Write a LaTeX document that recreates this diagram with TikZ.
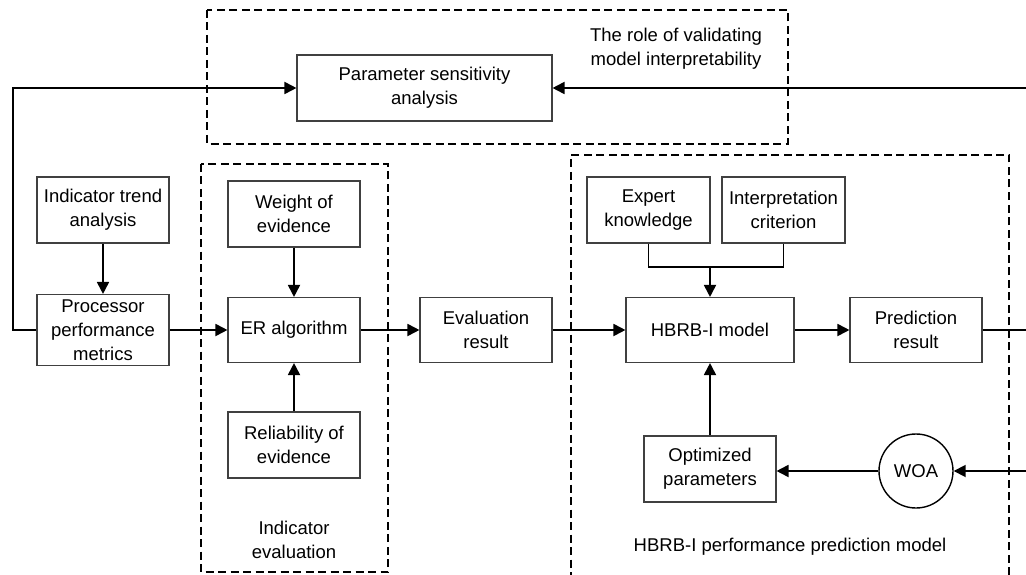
\documentclass[tikz,border=0pt]{standalone}
\usepackage{fontspec}
\setmainfont{Liberation Sans}
\usetikzlibrary{arrows.meta}
\tikzset{
  box/.style={draw=black!75, line width=1.1pt, rectangle, align=center,
    inner sep=0pt, font=\fontsize{18.5}{24}\selectfont},
  lbl/.style={align=center, inner sep=0pt, font=\fontsize{18.5}{24}\selectfont},
  group/.style={draw=black, line width=1.6pt, dash pattern=on 8pt off 4.5pt},
  conn/.style={line width=1.8pt, black},
  arr/.style={conn, -{Triangle[length=12pt,width=12pt]}}
}
\begin{document}
\begin{tikzpicture}[x=1pt,y=-1pt]
\useasboundingbox (0,0) rectangle (1026,575);
\clip (0,0) rectangle (1026,575);

% dashed group frames
\draw[group] (207,10) rectangle (788,144);
\draw[group] (201,164) rectangle (388,572);
\draw[group] (1009,600) -- (1009,155) -- (571,155) -- (571,600);

% group captions
\node[lbl] (capA) at (676,49) {The role of validating\\model interpretability};
\node[lbl] (capB) at (294,540) {Indicator\\evaluation};
\node[lbl] (capC) at (790,547) {HBRB-I performance prediction model};

% blocks
\node[box, minimum width=255pt, minimum height=66pt] (psa) at (424.5,88) {Parameter sensitivity\\analysis};
\node[box, minimum width=132pt, minimum height=66pt] (ita) at (103,210) {Indicator trend\\analysis};
\node[box, minimum width=132pt, minimum height=71pt] (ppm) at (103,330) {Processor\\performance\\metrics};
\node[box, minimum width=132pt, minimum height=66pt] (woe) at (294,214) {Weight of\\evidence};
\node[box, minimum width=132pt, minimum height=65pt] (er) at (294,330) {ER algorithm};
\node[box, minimum width=132pt, minimum height=66pt] (roe) at (294,445) {Reliability of\\evidence};
\node[box, minimum width=132pt, minimum height=65pt] (evr) at (486,330) {Evaluation\\result};
\node[box, minimum width=123pt, minimum height=66pt] (exk) at (648.5,210) {Expert\\knowledge};
\node[box, minimum width=123pt, minimum height=66pt] (inc) at (783.5,210) {Interpretation\\criterion};
\node[box, minimum width=168pt, minimum height=65pt] (hbrb) at (710,330) {HBRB-I model};
\node[box, minimum width=132pt, minimum height=65pt] (prr) at (916,330) {Prediction\\result};
\node[box, minimum width=132pt, minimum height=66pt] (opt) at (710,469) {Optimized\\parameters};
\node[box, circle, draw=black, line width=1.4pt, minimum size=74pt] (woa) at (916,471) {WOA};

% routing points
\coordinate (lc) at (13,88);
\coordinate (join) at (710,267);
\coordinate (rtop) at (1030,88);
\coordinate (rmid) at (1030,330);
\coordinate (rlow) at (1030,471);

% connectors
\draw[arr] (ppm.west) -- (13,330) -- (lc) -- (psa.west);
\draw[arr] (rtop) -- (psa.east);
\draw[arr] (ita.south) -- (ppm.north);
\draw[arr] (ppm.east) -- (er.west);
\draw[arr] (woe.south) -- (er.north);
\draw[arr] (roe.north) -- (er.south);
\draw[arr] (er.east) -- (evr.west);
\draw[arr] (evr.east) -- (hbrb.west);
\draw[conn] (exk.south) |- (join) -| (inc.south);
\draw[arr] (join) -- (hbrb.north);
\draw[arr] (hbrb.east) -- (prr.west);
\draw[conn] (prr.east) -- (rmid);
\draw[arr] (opt.north) -- (hbrb.south);
\draw[arr] (woa.west) -- (opt.east |- woa.west);
\draw[arr] (rlow) -- (woa.east);
\end{tikzpicture}
\end{document}
